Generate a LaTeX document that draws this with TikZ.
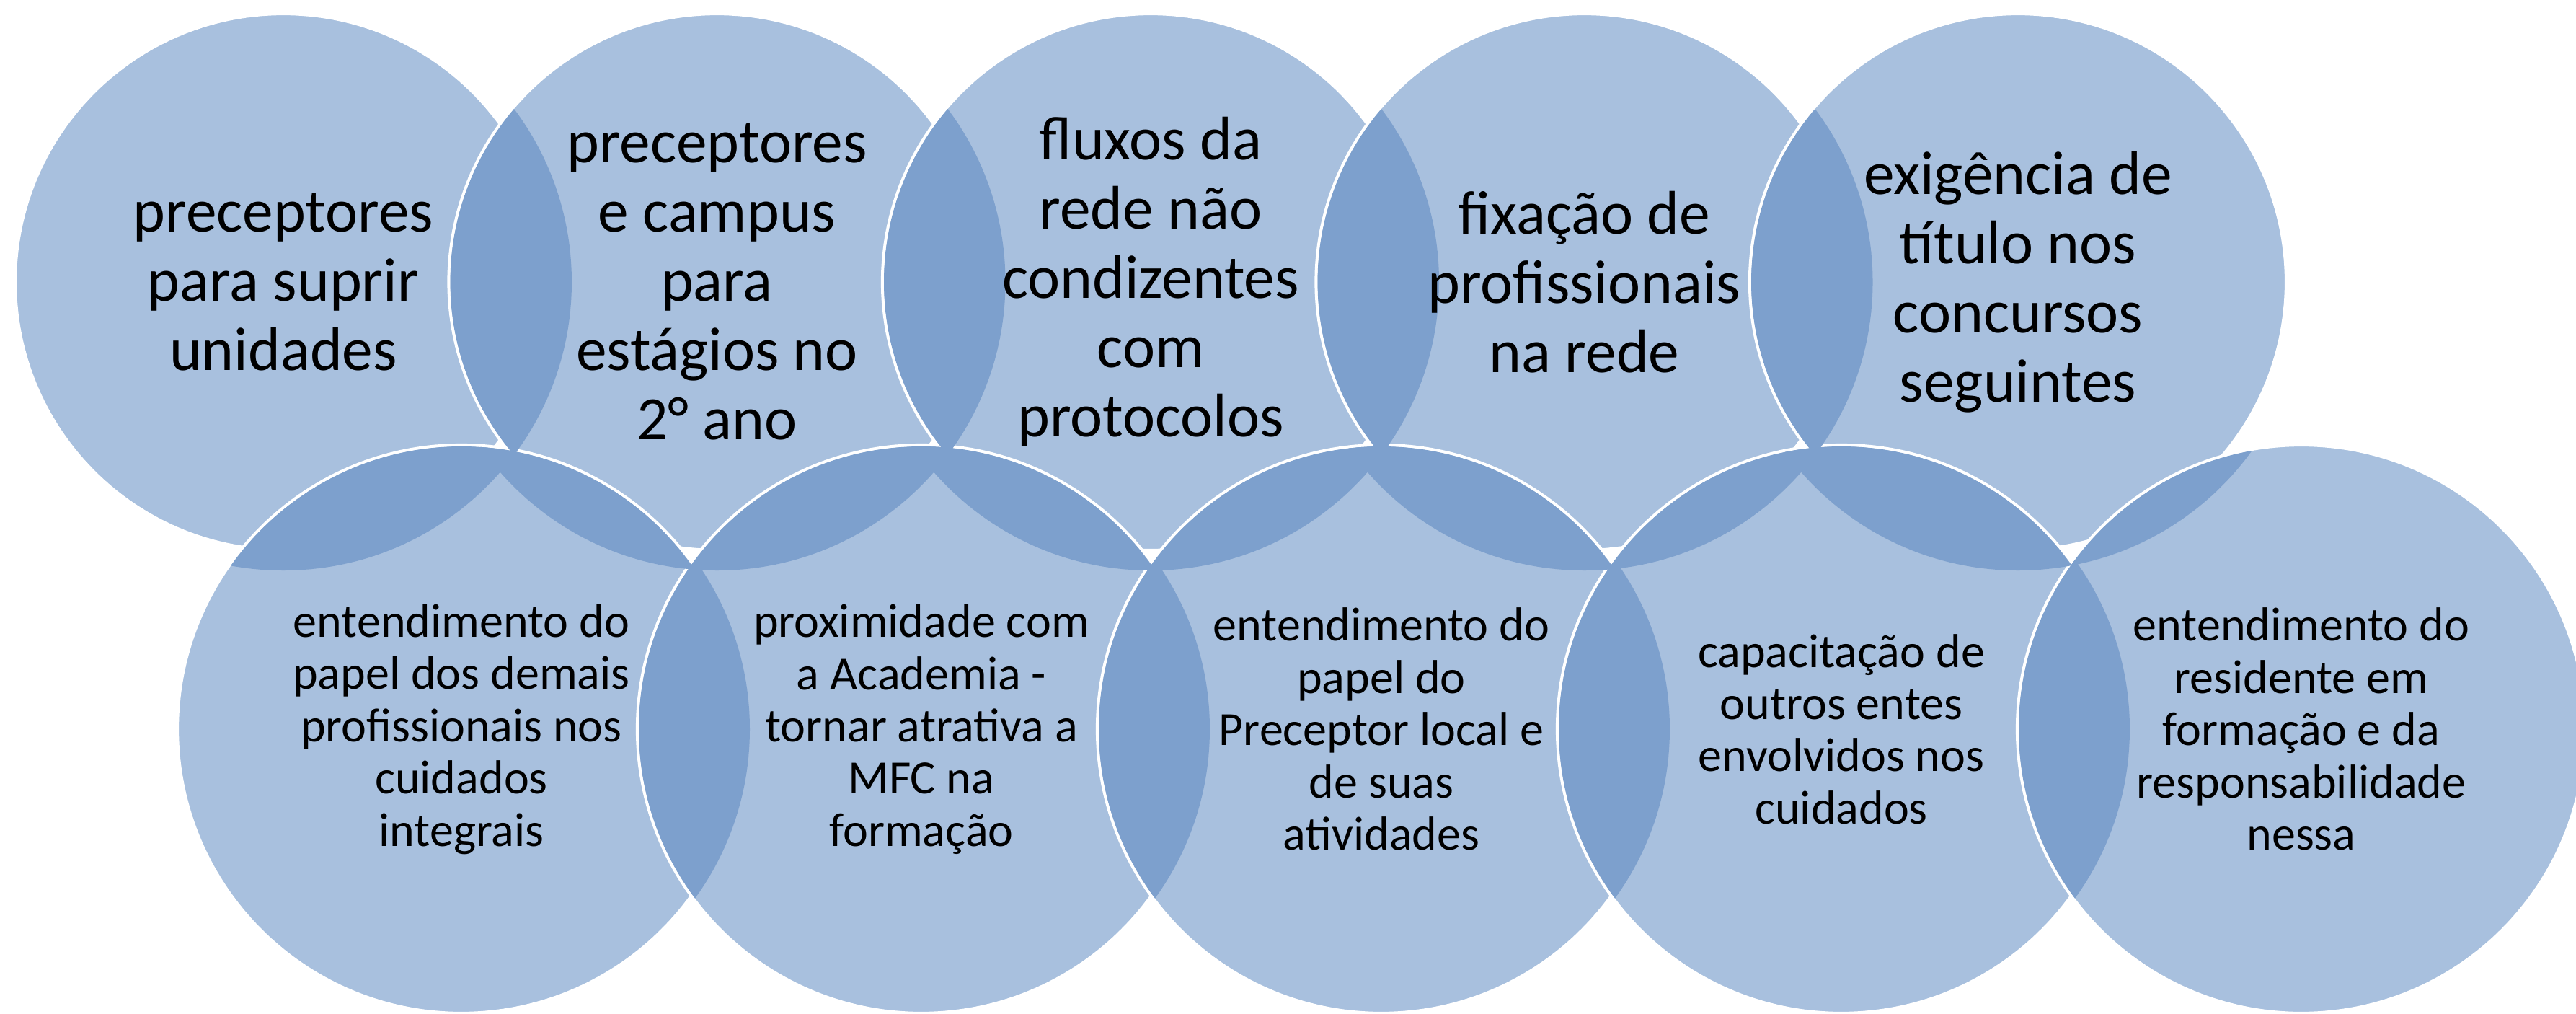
\documentclass[tikz,border=0pt]{standalone}
\usepackage{fontspec}
\setmainfont{Carlito}
\usepackage{tikz}
\usetikzlibrary{positioning}
\usepackage{xcolor}
\definecolor{VennLight}{RGB}{168,192,222}
\definecolor{VennDark}{RGB}{125,160,205}

\tikzset{
  venn/.style={circle, inner sep=0pt, fill=VennLight, draw=white, line width=1.2pt},
  toprow/.style={venn, minimum size=7.44cm},
  botrow/.style={venn, minimum size=7.88cm},
  toptext/.style={align=center, font=\fontsize{24.3}{27.3}\selectfont},
  bottext/.style={align=center, font=\fontsize{18.8}{20.6}\selectfont},
}

\begin{document}
\begin{tikzpicture}
\useasboundingbox (0,0) rectangle (35.73,-14.05);
% upper row of circles
\foreach \i/\x in {1/3.93, 2/9.945, 3/15.96, 4/21.975, 5/27.99}
  \node[toprow] (t\i) at (\x,-3.91) {};
% lower row of circles
\foreach \i/\x in {1/6.40, 2/12.78, 3/19.16, 4/25.54, 5/31.92}
  \node[botrow] (b\i) at (\x,-10.11) {};
%
% overlaps: earlier circle / later circle / inner radius of later one
\foreach \a/\b/\r in {t1/t2/3.70, t2/t3/3.70, t3/t4/3.70, t4/t5/3.70,
                      t1/b1/3.92, t2/b1/3.92, t2/b2/3.92, t3/b2/3.92, b1/b2/3.92,
                      t3/b3/3.92, t4/b3/3.92, b2/b3/3.92,
                      t4/b4/3.92, t5/b4/3.92, b3/b4/3.92,
                      t5/b5/3.92, b4/b5/3.92}
{
  \begin{scope}
    \clip (\b.center) circle (\r);
    \fill[VennDark] (\a.center) circle (4);
  \end{scope}
}
%
% texts
\node[toptext] (t1txt) at (t1) {preceptores\\para suprir\\unidades};
\node[toptext] (t2txt) at (t2) {preceptores\\e campus\\para\\estágios no\\2° ano};
\node[toptext] (t3txt) at (t3) {fluxos da\\rede não\\condizentes\\com\\protocolos};
\node[toptext] (t4txt) at (t4) {fixação de\\profissionais\\na rede};
\node[toptext] (t5txt) at (t5) {exigência de\\título nos\\concursos\\seguintes};
\node[bottext] (b1txt) at (b1) {entendimento do\\papel dos demais\\profissionais nos\\cuidados\\integrais};
\node[bottext] (b2txt) at (b2) {proximidade com\\a Academia -\\tornar atrativa a\\MFC na\\formação};
\node[bottext] (b3txt) at (b3) {entendimento do\\papel do\\Preceptor local e\\de suas\\atividades};
\node[bottext] (b4txt) at (b4) {capacitação de\\outros entes\\envolvidos nos\\cuidados};
\node[bottext] (b5txt) at (b5) {entendimento do\\residente em\\formação e da\\responsabilidade\\nessa};
\end{tikzpicture}
\end{document}
